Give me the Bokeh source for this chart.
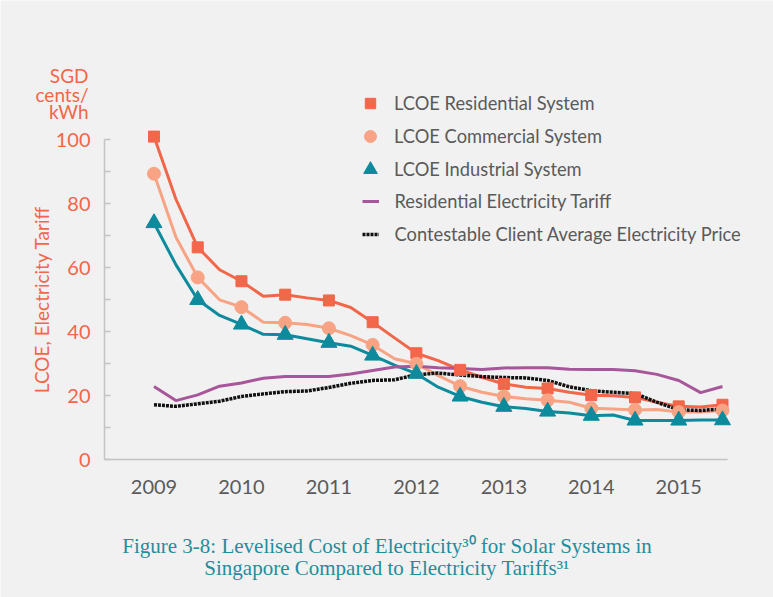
from bokeh.plotting import figure
from bokeh.models import Range1d, FixedTicker, Legend, LegendItem, Label
from bokeh.embed import file_html
from bokeh.resources import INLINE

# ---------------- data ----------------
quarters = [2009.0, 2009.25, 2009.5, 2009.75, 2010.0, 2010.25, 2010.5, 2010.75,
            2011.0, 2011.25, 2011.5, 2011.75, 2012.0, 2012.25, 2012.5, 2012.75,
            2013.0, 2013.25, 2013.5, 2013.75, 2014.0, 2014.25, 2014.5, 2014.75,
            2015.0, 2015.25, 2015.5]

lcoe_residential = [101.0, 81.5, 66.4, 59.4, 55.8, 51.1, 51.6, 50.6,
                    49.8, 47.6, 43.0, 38.1, 33.3, 31.0, 28.1, 25.8,
                    23.7, 22.7, 22.3, 21.1, 20.2, 20.0, 19.5, 18.0,
                    16.7, 16.5, 17.2]

lcoe_commercial = [89.4, 69.6, 57.0, 50.0, 47.7, 43.0, 42.8, 42.3,
                   41.1, 38.8, 35.9, 31.6, 30.0, 26.3, 23.0, 21.1,
                   19.8, 19.1, 18.6, 18.0, 16.1, 15.9, 15.6, 15.7,
                   14.9, 14.9, 15.4]

lcoe_industrial = [74.0, 61.0, 50.0, 45.1, 42.3, 39.2, 39.1, 37.8,
                   36.6, 35.5, 32.6, 29.6, 26.9, 22.7, 19.8, 18.0,
                   16.6, 16.0, 15.1, 14.6, 13.8, 14.0, 12.3, 12.3,
                   12.3, 12.4, 12.4]

residential_tariff = [22.9, 18.5, 20.3, 23.0, 24.0, 25.5, 26.0, 26.0,
                      26.0, 26.8, 27.9, 29.0, 29.2, 28.8, 28.5, 28.2,
                      28.7, 28.8, 28.8, 28.3, 28.2, 28.2, 27.8, 26.7,
                      24.8, 21.0, 22.9]

contestable_price = [17.2, 16.7, 17.5, 18.3, 19.8, 20.6, 21.3, 21.5,
                     22.6, 23.9, 24.8, 25.0, 26.6, 27.1, 26.5, 26.0,
                     25.7, 25.6, 24.8, 22.8, 21.6, 21.1, 20.7, 18.0,
                     15.6, 15.4, 15.9]

year_ticks = [2009, 2010, 2011, 2012, 2013, 2014, 2015]
y_ticks = [0, 20, 40, 60, 80, 100]
y_minor_ticks = [10, 30, 50, 70, 90]

series_labels = ["LCOE Residential System", "LCOE Commercial System",
                 "LCOE Industrial System", "Residential Electricity Tariff",
                 "Contestable Client Average Electricity Price"]
y_unit_lines = ["SGD", "cents/", "kWh"]
y_title = "LCOE, Electricity Tariff"
caption_lines = ["Figure 3-8: Levelised Cost of Electricity\u00b3\u2070 for Solar Systems in",
                 "Singapore Compared to Electricity Tariffs\u00b3\u00b9"]

# ---------------- style ----------------
BG = "#f1f1f1"
ORANGE = "#f26649"
SALMON = "#f8a384"
TEAL = "#0e8a9d"
PURPLE = "#a8569a"
BLACK = "#111111"
GREY_TXT = "#5a5a5a"
AXIS = "#c4c4c4"
CAPTION = "#1f8d9c"
FONT = "Lato"

W, H = 773, 597
AXIS_X0, AXIS_X1 = 2008.434, 2015.557

p = figure(width=W, height=H, output_backend="svg", toolbar_location=None,
           x_range=Range1d(2007.2449, 2016.0832), y_range=Range1d(-43.03, 143.53),
           min_border_left=0, min_border_right=0, min_border_top=0, min_border_bottom=0,
           background_fill_color=BG, border_fill_color=BG, outline_line_color=None)
p.xgrid.visible = False
p.ygrid.visible = False

# lines
r_res_line = p.line(quarters, lcoe_residential, line_color=ORANGE, line_width=3)
r_com_line = p.line(quarters, lcoe_commercial, line_color=SALMON, line_width=3)
r_ind_line = p.line(quarters, lcoe_industrial, line_color=TEAL, line_width=3)
r_tar = p.line(quarters, residential_tariff, line_color=PURPLE, line_width=3)
r_con = p.line(quarters, contestable_price, line_color=BLACK, line_width=3.5, line_dash="3 1")

# markers at half-year points
r_res = p.scatter(quarters[::2], lcoe_residential[::2], marker="square", size=11,
                  fill_color=ORANGE, line_color=ORANGE)
r_com = p.scatter(quarters[::2], lcoe_commercial[::2], marker="circle", size=13,
                  fill_color=SALMON, line_color=SALMON)
r_ind = p.scatter(quarters[::2], lcoe_industrial[::2], marker="triangle", size=16,
                  fill_color=TEAL, line_color=TEAL)

# axes (fixed inside the full-canvas frame)
ya = p.yaxis[0]
ya.fixed_location = AXIS_X0
ya.ticker = FixedTicker(ticks=y_ticks, minor_ticks=y_minor_ticks)
ya.bounds = (0, 100)
ya.axis_line_color = AXIS
ya.axis_line_width = 1.5
ya.major_tick_line_color = AXIS
ya.minor_tick_line_color = AXIS
ya.major_tick_line_width = 1.5
ya.minor_tick_line_width = 1.5
ya.major_tick_in = 6
ya.major_tick_out = 0
ya.minor_tick_in = 6
ya.minor_tick_out = 0
ya.major_label_text_color = ORANGE
ya.major_label_text_font = FONT
ya.major_label_text_font_size = "20px"
ya.major_label_standoff = 14
ya.axis_label = y_title
ya.axis_label_text_color = ORANGE
ya.axis_label_text_font = FONT
ya.axis_label_text_font_size = "19px"
ya.axis_label_text_font_style = "normal"
ya.axis_label_standoff = 0

xa = p.xaxis[0]
xa.fixed_location = 0
xa.ticker = FixedTicker(ticks=year_ticks, minor_ticks=[])
xa.bounds = (AXIS_X0, AXIS_X1)
xa.axis_line_color = AXIS
xa.axis_line_width = 1.5
xa.major_tick_in = 0
xa.major_tick_out = 0
xa.minor_tick_in = 0
xa.minor_tick_out = 0
xa.major_label_text_color = GREY_TXT
xa.major_label_text_font = FONT
xa.major_label_text_font_size = "20px"
xa.major_label_standoff = 20

# legends (one per row for per-item glyph sizing)
legend_specs = [(r_res, 26, 26), (r_com, 30, 30), (r_ind, 34, 34), (r_tar, 17, 20), (r_con, 17, 20)]
for i, (rend, gw, gh) in enumerate(legend_specs):
    hh = max(gh, 20)
    center_y = 103 + 33 * i
    vy = H - (center_y + hh / 2)
    lx = 370 - gw / 2
    leg = Legend(items=[LegendItem(label=series_labels[i], renderers=[rend])],
                 location=(lx, vy), glyph_width=gw, glyph_height=gh, label_height=20,
                 label_standoff=int(round(394 - (370 + gw / 2))), padding=0, margin=0,
                 spacing=0, border_line_color=None, background_fill_alpha=0,
                 label_text_font=FONT, label_text_font_size="18.3px",
                 label_text_color=GREY_TXT, label_text_baseline="middle")
    p.add_layout(leg, "center")

# units above the y axis
for txt, fy in zip(y_unit_lines, [75, 94, 111]):
    p.add_layout(Label(x=88, y=H - fy, x_units="screen", y_units="screen",
                       text=txt, text_align="right", text_baseline="middle",
                       text_color=ORANGE, text_font=FONT, text_font_size="19px"))

# caption
for txt, fy in zip(caption_lines, [545, 567]):
    p.add_layout(Label(x=386.5, y=H - fy, x_units="screen", y_units="screen",
                       text=txt, text_align="center", text_baseline="middle",
                       text_color=CAPTION, text_font="Liberation Serif", text_font_size="21px"))

open("out.html", "w").write(file_html(p, INLINE))
